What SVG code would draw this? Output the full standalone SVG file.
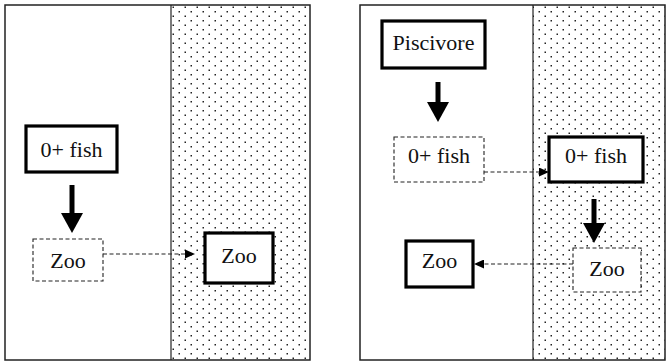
<svg xmlns="http://www.w3.org/2000/svg" width="666" height="362" viewBox="0 0 666 362">
<style>
.panel{fill:none;stroke:#222;stroke-width:1.5}
.div{stroke:#222;stroke-width:1.2}
.thick{fill:#fff;stroke:#000;stroke-width:3.2}
.dash{fill:#fff;stroke:#222;stroke-width:1.1;stroke-dasharray:4 2.5}
.lbl{font-family:"Liberation Serif","Times New Roman",serif;font-size:22px;fill:#111;text-anchor:middle}
.big{stroke:#000;stroke-width:5;fill:none}
.dl{stroke:#222;stroke-width:1.1;stroke-dasharray:4 2.5;fill:none}
</style>
<defs>
<pattern id="dots" x="171" y="5" width="12" height="9" patternUnits="userSpaceOnUse">
<rect x="1.5" y="1.5" width="1.5" height="1.5" fill="#222"/>
<rect x="7.5" y="6" width="1.5" height="1.5" fill="#222"/>
</pattern>
<marker id="bighead" viewBox="0 0 20 22" refX="0" refY="11" markerWidth="20" markerHeight="22" markerUnits="userSpaceOnUse" orient="auto">
<path d="M0,0 L20,11 L0,22 z" fill="#000"/>
</marker>
<marker id="smallhead" viewBox="0 0 10 9" refX="0" refY="4.5" markerWidth="10" markerHeight="9" markerUnits="userSpaceOnUse" orient="auto">
<path d="M0,0 L10,4.5 L0,9 z" fill="#000"/>
</marker>
</defs>
<rect width="666" height="362" fill="#fff"/>
<g id="panel-left">
<rect x="171" y="5" width="139" height="355" fill="url(#dots)"/>
<line class="div" x1="171" y1="5" x2="171" y2="360"/>
<rect class="panel" x="5" y="5" width="305" height="355"/>
</g>
<g id="panel-right">
<rect x="533" y="5" width="132" height="355" fill="url(#dots)"/>
<line class="div" x1="533" y1="5" x2="533" y2="360"/>
<rect class="panel" x="360" y="5" width="305" height="355"/>
</g>
<g id="connectors">
<line class="big" x1="72" y1="185" x2="72" y2="213" marker-end="url(#bighead)"/>
<line class="dl" x1="103" y1="254" x2="185" y2="254" marker-end="url(#smallhead)"/>
<line class="big" x1="438" y1="82" x2="438" y2="102" marker-end="url(#bighead)"/>
<line class="dl" x1="484" y1="172" x2="539" y2="172" marker-end="url(#smallhead)"/>
<line class="big" x1="594" y1="199" x2="594" y2="223" marker-end="url(#bighead)"/>
<line class="dl" x1="573" y1="264" x2="484" y2="264" marker-end="url(#smallhead)"/>
</g>
<g id="l-fish">
<rect class="thick" x="26" y="126" width="91" height="46"/>
<text class="lbl" x="71.5" y="157">0+ fish</text>
</g>
<g id="l-zoo-dashed">
<rect class="dash" x="33" y="239" width="70" height="42"/>
<text class="lbl" x="68" y="268">Zoo</text>
</g>
<g id="l-zoo">
<rect class="thick" x="205" y="233" width="68" height="50"/>
<text class="lbl" x="239" y="263">Zoo</text>
</g>
<g id="r-piscivore">
<rect class="thick" x="382" y="21" width="103" height="47"/>
<text class="lbl" x="433.5" y="50">Piscivore</text>
</g>
<g id="r-fish-dashed">
<rect class="dash" x="394" y="137" width="90" height="45"/>
<text class="lbl" x="439" y="163">0+ fish</text>
</g>
<g id="r-fish">
<rect class="thick" x="549" y="137" width="94" height="45"/>
<text class="lbl" x="596" y="163">0+ fish</text>
</g>
<g id="r-zoo-dashed">
<rect class="dash" x="573" y="248" width="68" height="44"/>
<text class="lbl" x="607" y="276">Zoo</text>
</g>
<g id="r-zoo">
<rect class="thick" x="406" y="241" width="67" height="46"/>
<text class="lbl" x="439.5" y="268">Zoo</text>
</g>
</svg>
